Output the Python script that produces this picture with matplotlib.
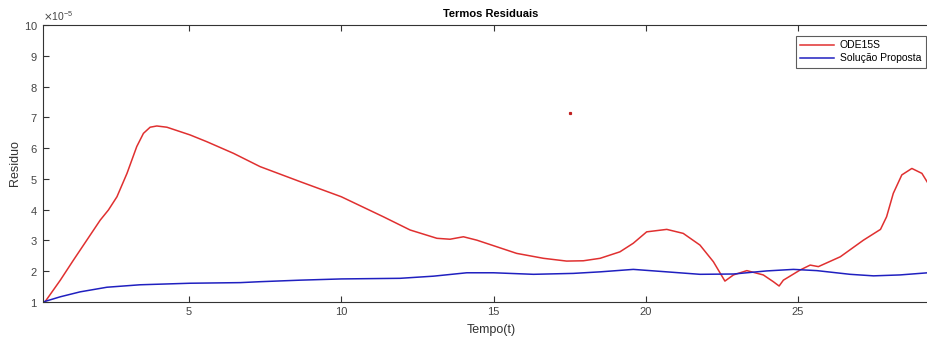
import matplotlib.pyplot as plt
from matplotlib.ticker import ScalarFormatter

plt.rcParams['font.family'] = ['Liberation Sans', 'DejaVu Sans']

# residuo do ODE15S (x1e-5)
t_ode = [0.2, 0.27, 0.77, 1.20, 1.64, 2.08, 2.35, 2.63, 2.96, 3.28, 3.50,
         3.72, 3.94, 4.27, 5.03, 5.58, 6.46, 7.33, 8.65, 10.0, 11.38, 12.26,
         13.14, 13.57, 14.01, 14.45, 15.0, 15.76, 16.64, 17.4, 17.95, 18.5,
         19.15, 19.59, 20.03, 20.69, 21.23, 21.78, 22.22, 22.6, 22.88, 23.32,
         23.86, 24.19, 24.38, 24.52, 25.07, 25.40, 25.67, 26.39, 27.15,
         27.71, 27.91, 28.13, 28.41, 28.74, 29.07, 29.27]
r_ode = [1.0, 1.01, 1.71, 2.36, 3.01, 3.66, 3.99, 4.42, 5.18, 6.05, 6.48,
         6.68, 6.72, 6.68, 6.43, 6.21, 5.83, 5.40, 4.91, 4.42, 3.77, 3.34,
         3.07, 3.04, 3.12, 3.01, 2.83, 2.58, 2.42, 2.33, 2.34, 2.42,
         2.63, 2.91, 3.28, 3.36, 3.23, 2.85, 2.31, 1.68, 1.88, 2.02,
         1.88, 1.66, 1.52, 1.71, 2.04, 2.20, 2.15, 2.47, 3.01,
         3.36, 3.77, 4.53, 5.13, 5.34, 5.18, 4.86]

# residuo da solucao proposta (x1e-5)
t_prop = [0.2, 0.77, 1.42, 2.30, 3.39, 5.03, 6.68, 7.33, 8.65, 10.0,
          11.93, 13.03, 14.12, 15.0, 16.31, 17.62, 18.5, 19.59, 20.69,
          21.78, 22.88, 23.97, 24.85, 25.62, 26.71, 27.48, 28.35, 29.27]
r_prop = [1.0, 1.17, 1.33, 1.48, 1.56, 1.61, 1.63, 1.66, 1.71, 1.75,
          1.77, 1.84, 1.95, 1.95, 1.90, 1.93, 1.98, 2.06, 1.98,
          1.90, 1.91, 2.01, 2.06, 2.02, 1.90, 1.85, 1.88, 1.95]

# ponto isolado
t_dot = [17.5]
r_dot = [7.14]

escala = 1e-5

fig = plt.figure(figsize=(9.28, 3.43), dpi=100)
# eixo passa um pouco da borda direita da figura
ax = fig.add_axes([0.0463, 0.1195, 0.9655, 0.8075])

ax.plot(t_ode, [r * escala for r in r_ode],
        color='#e03030', lw=1.1, label='ODE15S')
ax.plot(t_prop, [r * escala for r in r_prop],
        color='#2020c0', lw=1.1, label='Solução Proposta')
ax.plot(t_dot, [r * escala for r in r_dot], 's', color='#c02020', ms=1.3)

ax.set_xlim(0.2, 29.63)
ax.set_ylim(1e-5, 10e-5)
ax.set_xticks([5, 10, 15, 20, 25])
ax.set_yticks([i * escala for i in range(1, 11)])

fmt = ScalarFormatter(useMathText=True)
fmt.set_powerlimits((-5, -5))
ax.yaxis.set_major_formatter(fmt)
ax.yaxis.get_offset_text().set_fontsize(7.5)
ax.yaxis.get_offset_text().set_color('#444444')

for s in ax.spines.values():
    s.set_color('#333333')
    s.set_linewidth(0.8)
ax.tick_params(direction='in', top=True, right=True, length=4,
               labelsize=8, colors='#333333', labelcolor='#444444')

ax.set_title('Termos Residuais', fontsize=8, fontweight='bold', pad=6)
ax.set_xlabel('Tempo(t)', fontsize=9, color='#333333', labelpad=5)
ax.set_ylabel('Residuo', fontsize=9, color='#333333', labelpad=2)

leg = ax.legend(loc='upper right', bbox_to_anchor=(0.985, 0.96),
                fontsize=7.5, frameon=True, fancybox=False,
                edgecolor='#333333', borderaxespad=0.0, handlelength=3.2,
                handletextpad=0.6, borderpad=0.4, labelspacing=0.3)
leg.get_frame().set_linewidth(0.8)

fig.savefig('out.png', dpi=100)
